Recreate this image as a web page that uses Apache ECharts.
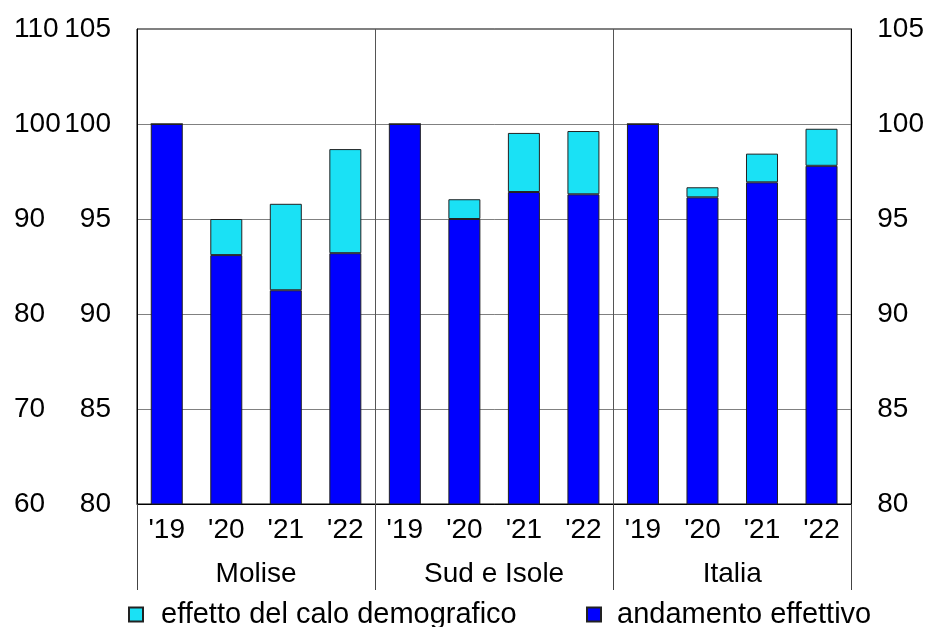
<!DOCTYPE html>
<html>
<head>
<meta charset="utf-8">
<script src="https://cdn.jsdelivr.net/npm/echarts@6/dist/echarts.min.js"></script>
<style>html,body{margin:0;padding:0;background:#fff}#c{width:927px;height:627px}</style>
</head>
<body>
<div id="c"></div>
<script>
var categories = ["'19","'20","'21","'22","'19","'20","'21","'22","'19","'20","'21","'22"];
var groups = ["Molise","Sud e Isole","Italia"];
var andamentoEffettivo = [100, 93.1, 91.25, 93.2, 100, 95.0, 96.42, 96.3, 100, 96.14, 96.93, 97.8];
var effettoCalo = [0, 1.9, 4.55, 5.48, 0, 1.04, 3.11, 3.33, 0, 0.53, 1.51, 1.95];
var leftOuterTicks = {min: 60, max: 110, interval: 10};
var innerTicks = {min: 80, max: 105, interval: 5};

var FONT = "'Liberation Sans', Arial, sans-serif";
var chart = echarts.init(document.getElementById('c'), null, {renderer: 'canvas'});
chart.setOption({
  animation: false,
  backgroundColor: '#fff',
  textStyle: {fontFamily: FONT, color: '#000'},
  grid: {left: 137, right: 75, top: 29, bottom: 123, show: true, borderColor: '#000', borderWidth: 1, backgroundColor: 'transparent'},
  legend: [
    {data: ['effetto del calo demografico'], left: 123, top: 595, itemWidth: 14, itemHeight: 14, icon: 'rect', itemGap: 0,
     textStyle: {fontSize: 29, fontFamily: FONT, color: '#000', padding: [0, 0, 0, 13]}},
    {data: ['andamento effettivo'], left: 581, top: 595, itemWidth: 14, itemHeight: 14, icon: 'rect', itemGap: 0,
     textStyle: {fontSize: 29, fontFamily: FONT, color: '#000', padding: [0, 0, 0, 11]}}
  ],
  xAxis: [
    {type: 'category', data: categories, position: 'bottom',
     axisLine: {show: true, lineStyle: {color: '#000', width: 1}},
     axisTick: {show: false}, splitLine: {show: false},
     axisLabel: {fontSize: 28, fontFamily: FONT, color: '#000', margin: 12, interval: 0}},
    {type: 'category', data: groups, position: 'bottom',
     axisLine: {show: false},
     axisTick: {show: true, length: 86, interval: 0, lineStyle: {color: '#444', width: 1}},
     splitLine: {show: true, interval: 0, lineStyle: {color: '#555', width: 1}},
     axisLabel: {fontSize: 28, fontFamily: FONT, color: '#000', margin: 56, interval: 0}}
  ],
  yAxis: [
    {type: 'value', position: 'left', min: innerTicks.min, max: innerTicks.max, interval: innerTicks.interval,
     axisLine: {show: true, lineStyle: {color: '#000'}}, axisTick: {show: false},
     splitLine: {show: true, lineStyle: {color: '#808080', width: 1}},
     axisLabel: {fontSize: 28, fontFamily: FONT, color: '#000', margin: 26}},
    {type: 'value', position: 'left', min: leftOuterTicks.min, max: leftOuterTicks.max, interval: leftOuterTicks.interval,
     axisLine: {show: false}, axisTick: {show: false}, splitLine: {show: false},
     axisLabel: {fontSize: 28, fontFamily: FONT, color: '#000', margin: 123, align: 'left'}},
    {type: 'value', position: 'right', min: innerTicks.min, max: innerTicks.max, interval: innerTicks.interval,
     axisLine: {show: true, lineStyle: {color: '#000'}}, axisTick: {show: false}, splitLine: {show: false},
     axisLabel: {fontSize: 28, fontFamily: FONT, color: '#000', margin: 26, align: 'left'}}
  ],
  series: [
    {name: 'andamento effettivo', type: 'bar', stack: 'a', xAxisIndex: 0, yAxisIndex: 0, barWidth: 32,
     data: andamentoEffettivo, itemStyle: {color: '#0000ff', borderColor: '#222', borderWidth: 1}},
    {name: 'effetto del calo demografico', type: 'bar', stack: 'a', xAxisIndex: 0, yAxisIndex: 0, barWidth: 32,
     data: effettoCalo, itemStyle: {color: '#1ae1f5', borderColor: '#222', borderWidth: 1}}
  ]
});
</script>
</body>
</html>
